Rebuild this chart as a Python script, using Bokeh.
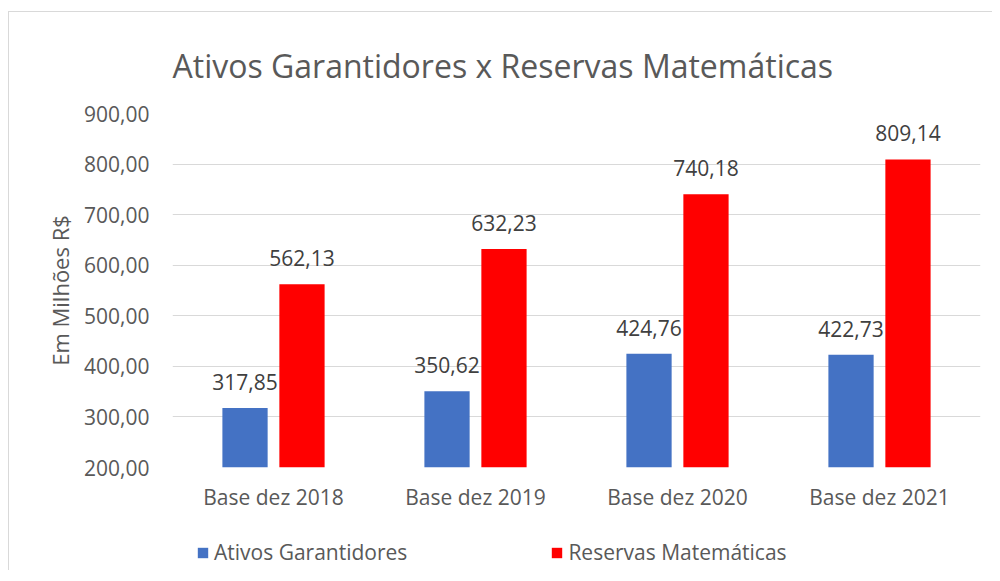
from bokeh.plotting import figure
from bokeh.layouts import column
from bokeh.models import ColumnDataSource, Legend, LegendItem, FixedTicker, CustomJSTickFormatter
from bokeh.transform import dodge
from bokeh.core.properties import value
from bokeh.embed import file_html
from bokeh.resources import INLINE

categories = ["Base dez 2018", "Base dez 2019", "Base dez 2020", "Base dez 2021"]
ativos = [317.85, 350.62, 424.76, 422.73]
reservas = [562.13, 632.23, 740.18, 809.14]
y_ticks = [200, 300, 400, 500, 600, 700, 800, 900]
series_names = ["Ativos Garantidores", "Reservas Matemáticas"]
colors = ["#4472C4", "#FF0000"]

def fmt(v):
    return f"{v:.2f}".replace(".", ",")

src = ColumnDataSource(dict(
    cat=categories,
    ativos=ativos,
    reservas=reservas,
    ativos_lbl=[fmt(v) for v in ativos],
    reservas_lbl=[fmt(v) for v in reservas],
))

FONT = "Open Sans"
TXT = "#595959"
W = 983

p = figure(x_range=categories, y_range=(200, 900), width=W, height=518,
           output_backend="svg", toolbar_location=None, tools="",
           min_border_left=163, min_border_right=12, min_border_top=101, min_border_bottom=63)
p.outline_line_color = None
p.background_fill_color = "white"
p.border_fill_color = "white"

p.title.text = "Ativos Garantidores x Reservas Matemáticas"
p.title.text_font = FONT
p.title.text_font_size = "32px"
p.title.text_font_style = "normal"
p.title.text_color = TXT
p.title.align = "left"
p.title.vertical_align = "top"
p.title.standoff = 50

off = 0.141
w = 0.224
p.vbar(x=dodge("cat", -off, range=p.x_range), top="ativos", bottom=200, width=w,
       source=src, fill_color=colors[0], line_color=None)
p.vbar(x=dodge("cat", off, range=p.x_range), top="reservas", bottom=200, width=w,
       source=src, fill_color=colors[1], line_color=None)

for col, o in (("ativos", -off), ("reservas", off)):
    p.text(x=dodge("cat", o, range=p.x_range), y=col, text=col + "_lbl", source=src,
           text_font=value(FONT), text_font_size="21px", text_color="#404040",
           text_align="center", text_baseline="alphabetic", y_offset=-26)

p.yaxis.ticker = FixedTicker(ticks=y_ticks)
p.yaxis.formatter = CustomJSTickFormatter(code="return tick.toFixed(2).replace('.', ',');")
p.yaxis.axis_label = "Em Milhões R$"
p.yaxis.axis_label_text_font = FONT
p.yaxis.axis_label_text_font_size = "22px"
p.yaxis.axis_label_text_font_style = "normal"
p.yaxis.axis_label_text_color = TXT
p.yaxis.axis_label_standoff = 6

for ax in (p.xaxis, p.yaxis):
    ax.axis_line_color = None
    ax.major_tick_line_color = None
    ax.minor_tick_line_color = None
    ax.major_label_text_font = FONT
    ax.major_label_text_color = TXT
p.yaxis.major_label_text_font_size = "21px"
p.xaxis.major_label_text_font_size = "21px"
p.yaxis.major_label_standoff = 17
p.xaxis.major_label_standoff = 9

p.xgrid.grid_line_color = None
p.ygrid.grid_line_color = "#d9d9d9"
p.ygrid.grid_line_width = 1
p.ygrid.ticker = FixedTicker(ticks=y_ticks)

# legend strip below the chart (swatch renderers sit outside the visible range)
q = figure(width=W, height=40, x_range=(0, 1), y_range=(0, 1),
           output_backend="svg", toolbar_location=None, tools="", min_border=0)
q.axis.visible = False
q.grid.visible = False
q.outline_line_color = None
q.border_fill_color = "white"
lr1 = q.vbar(x=[-5], top=[-5], bottom=-6, width=0.1, fill_color=colors[0], line_color=None)
lr2 = q.vbar(x=[-5], top=[-5], bottom=-6, width=0.1, fill_color=colors[1], line_color=None)
lg = Legend(items=[LegendItem(label=series_names[0], renderers=[lr1]),
                   LegendItem(label=series_names[1], renderers=[lr2])],
            location=(24, 4), orientation="horizontal", padding=0, margin=0,
            spacing=143, border_line_color=None, background_fill_alpha=0,
            glyph_width=13, glyph_height=13, label_standoff=5, label_height=24,
            label_text_font=FONT, label_text_font_size="21px", label_text_color=TXT)
q.add_layout(lg, "center")

layout = column(p, q, spacing=0)
layout.margin = (11, 0, 0, 8)
layout.styles = {"border-top": "1px solid #d9d9d9", "border-left": "1px solid #d9d9d9"}

open("out.html", "w").write(file_html(layout, INLINE))
